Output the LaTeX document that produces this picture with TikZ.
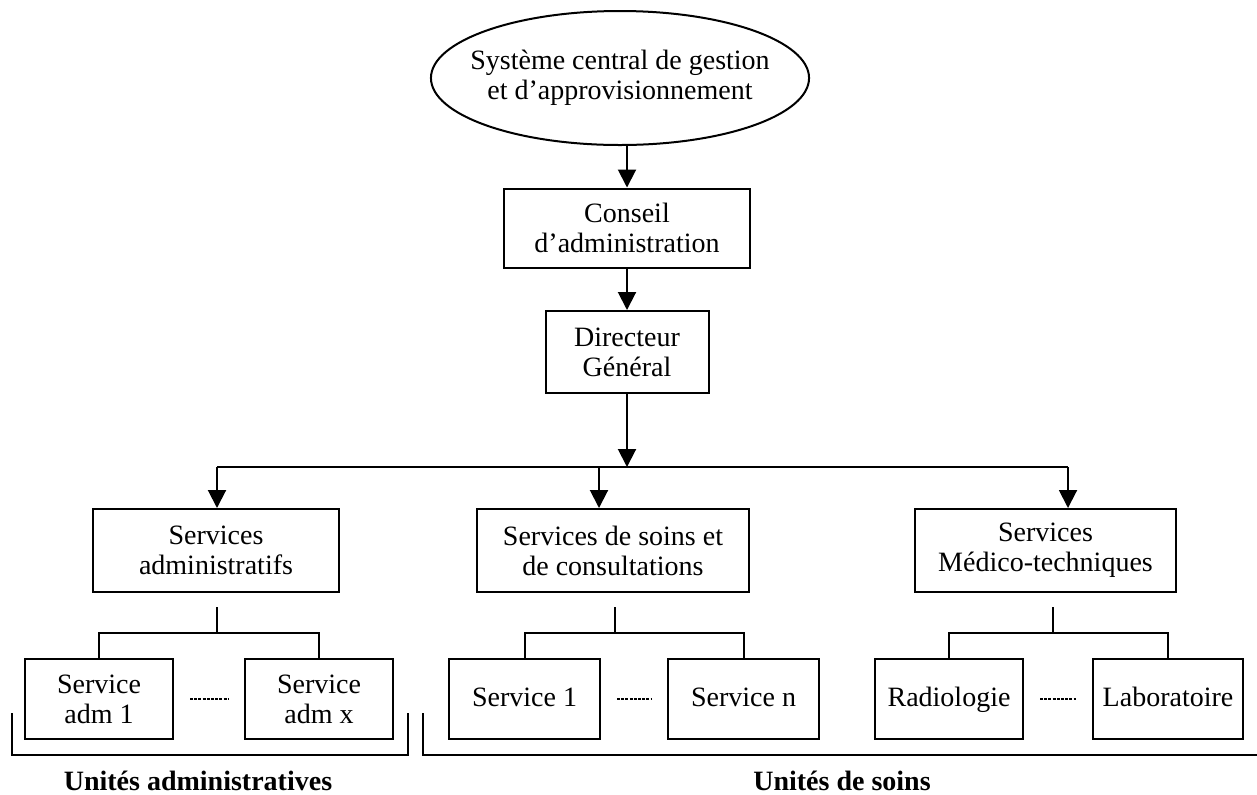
\documentclass[tikz,border=0pt]{standalone}
\usepackage{fontspec}
\setmainfont{Liberation Serif}
\usetikzlibrary{arrows.meta,shapes.geometric}

\begin{document}
\begin{tikzpicture}[x=0.5pt,y=-0.5pt,
  font=\fontsize{14}{15}\selectfont,
  line width=1pt,
  box/.style={draw,rectangle,align=center,inner sep=0pt},
  oneline/.style={text depth=0.22em},
  arr/.style={-{Triangle[width=9pt,length=9pt]}},
  dots/.style={line width=1.3pt,dash pattern=on 1.5pt off 0.6pt,shorten <=8pt,shorten >=8pt},
  unitlabel/.style={font=\fontsize{14}{15}\selectfont\bfseries,anchor=base}]
  \useasboundingbox (0,0) rectangle (1257,794);
  % top of the hierarchy
  \node[draw,ellipse,minimum width=187.5pt,minimum height=67pt,inner xsep=-8pt,inner ysep=0pt,align=center] (sys) at (620,78) {Système central de gestion\\et d’approvisionnement};
  \node[box,minimum width=123pt,minimum height=39.5pt] (conseil) at (627,228) {Conseil\\d’administration};
  \node[box,minimum width=81.5pt,minimum height=41pt] (dg) at (627,352) {Directeur\\Général};
  \draw[arr] (sys.south -| conseil.north) -- (conseil.north);
  \draw[arr] (conseil.south) -- (dg.north);
  % the three services
  \node[box,minimum width=123pt,minimum height=41.5pt] (adm) at (216,550.5) {Services\\administratifs};
  \node[box,minimum width=136pt,minimum height=41.5pt] (soins) at (613,550.5) {Services de soins et\\de consultations};
  \node[box,minimum width=130.5pt,minimum height=41.5pt] (med) at (1045.5,550.5) {Services\\Médico-techniques};
  \coordinate (bus) at (627,467);
  \coordinate (busA) at (217,467);
  \coordinate (busB) at (599,467);
  \coordinate (busC) at (1068,467);
  \draw[arr] (dg.south) -- (bus);
  \draw (busA) -- (busC);
  \draw[arr] (busA) -- (busA |- adm.north);
  \draw[arr] (busB) -- (busB |- soins.north);
  \draw[arr] (busC) -- (busC |- med.north);
  % units
  \node[box,minimum width=74pt,minimum height=40pt] (sa1) at (99,699) {Service\\adm 1};
  \node[box,minimum width=74pt,minimum height=40pt] (sax) at (319,699) {Service\\adm x};
  \node[box,oneline,minimum width=75.5pt,minimum height=40pt] (s1) at (524.5,699) {Service 1};
  \node[box,oneline,minimum width=75.5pt,minimum height=40pt] (sn) at (743.5,699) {Service n};
  \node[box,oneline,minimum width=74pt,minimum height=40pt] (rad) at (949,699) {Radiologie};
  \node[box,oneline,minimum width=75pt,minimum height=40pt] (lab) at (1168,699) {Laboratoire};
  \coordinate (fkA) at (217,633);
  \coordinate (fkB) at (615,633);
  \coordinate (fkC) at (1053,633);
  \draw (fkA) -- ++(0,-26);
  \draw (fkB) -- ++(0,-26);
  \draw (fkC) -- ++(0,-26);
  \draw (sa1.north) |- (fkA) -| (sax.north);
  \draw (s1.north) |- (fkB) -| (sn.north);
  \draw (rad.north) |- (fkC) -| (lab.north);
  \draw[dots] (sa1) -- (sax);
  \draw[dots] (s1) -- (sn);
  \draw[dots] (rad) -- (lab);
  % brackets
  \draw (12,713) -- (12,755) -- (408,755) -- (408,713);
  \draw (423,713) -- (423,755) -- (1257,755);
  \node[unitlabel] (uadm) at (198,790) {Unités administratives};
  \node[unitlabel] (usoins) at (842,790) {Unités de soins};
\end{tikzpicture}
\end{document}
